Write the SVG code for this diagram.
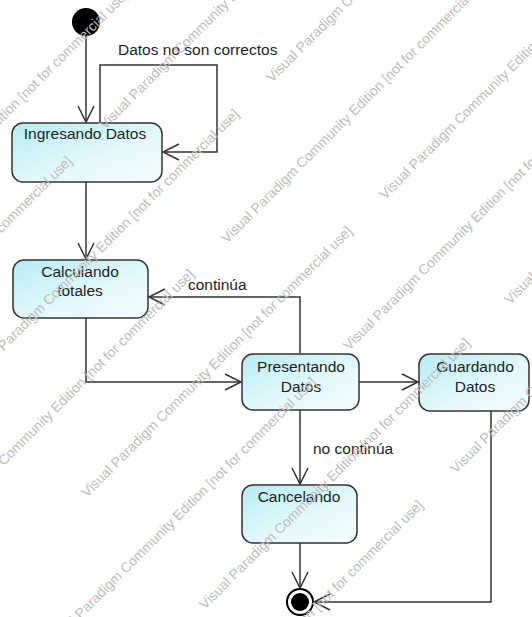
<svg xmlns="http://www.w3.org/2000/svg" width="532" height="617" viewBox="0 0 532 617">
<style>
.node rect{stroke:#333;stroke-width:1.5;fill:url(#g)}
.lbl{font-family:"Liberation Sans",Arial,sans-serif;font-size:15.5px;fill:#1e1e1e}
.nt{text-anchor:middle}
.edge{fill:none;stroke:#333;stroke-width:1.5;marker-end:url(#arr)}
.wm{font-family:"Liberation Sans",Arial,sans-serif;font-size:14px;fill:#bcbcbc}
</style>
<defs>
<linearGradient id="g" x1="0" y1="0" x2="1" y2="1">
<stop offset="0" stop-color="#b6ecf3"/>
<stop offset="0.6" stop-color="#e6f9fb"/>
<stop offset="1" stop-color="#f4fdfe"/>
</linearGradient>
<marker id="arr" markerUnits="userSpaceOnUse" markerWidth="20" markerHeight="20" viewBox="-18 -10 20 20" refX="0" refY="0" orient="auto">
<path d="M-16,-8 L0,0 L-16,8" fill="none" stroke="#333" stroke-width="1.5"/>
</marker>
</defs>
<rect width="532" height="617" fill="#fff"/>
<g id="connectors">
<path class="edge" d="M86,36 V122"/>
<path class="edge" d="M100,123 V65 H217 V152 H163"/>
<path class="edge" d="M86,182 V259"/>
<path class="edge" d="M86,318 V382 H241"/>
<path class="edge" d="M300,353 V297 H149"/>
<path class="edge" d="M359,382 H418"/>
<path class="edge" d="M300,410 V484"/>
<path class="edge" d="M300,543 V588"/>
<path class="edge" d="M491,411 V602 H314"/>
<text class="lbl" x="118" y="55">Datos no son correctos</text>
<text class="lbl" x="188" y="290">continúa</text>
<text class="lbl" x="313" y="454">no continúa</text>
</g>
<g id="initial"><circle cx="86" cy="22" r="14" fill="#000"/></g>
<g id="ingresando" class="node"><rect x="12" y="123" width="150" height="59" rx="11"/><text class="lbl nt" x="85" y="139">Ingresando Datos</text></g>
<g id="calculando" class="node"><rect x="13" y="260" width="135" height="58" rx="11"/><text class="lbl nt" x="80" y="277">Calculando</text><text class="lbl nt" x="80" y="296">totales</text></g>
<g id="presentando" class="node"><rect x="242" y="354" width="117" height="56" rx="11"/><text class="lbl nt" x="301" y="372">Presentando</text><text class="lbl nt" x="301" y="392">Datos</text></g>
<g id="guardando" class="node"><rect x="419" y="354" width="110" height="57" rx="11"/><text class="lbl nt" x="475" y="372">Guardando</text><text class="lbl nt" x="475" y="392">Datos</text></g>
<g id="cancelando" class="node"><rect x="242" y="485" width="115" height="58" rx="11"/><text class="lbl nt" x="299" y="502">Cancelando</text></g>
<g id="final"><circle cx="300" cy="602" r="13" fill="#fff" stroke="#000" stroke-width="2"/><circle cx="300" cy="602" r="9" fill="#000"/></g>
<g id="watermark" class="wm">
<text transform="translate(-137,262) rotate(-45)">Visual Paradigm Community Edition [not for commercial use]</text>
<text transform="translate(105,130) rotate(-45)">Visual Paradigm Community Edition [not for commercial use]</text>
<text transform="translate(-193,428) rotate(-45)">Visual Paradigm Community Edition [not for commercial use]</text>
<text transform="translate(-26,381) rotate(-45)">Visual Paradigm Community Edition [not for commercial use]</text>
<text transform="translate(272,83) rotate(-45)">Visual Paradigm Community Edition [not for commercial use]</text>
<text transform="translate(227,244) rotate(-45)">Visual Paradigm Community Edition [not for commercial use]</text>
<text transform="translate(-71,541) rotate(-45)">Visual Paradigm Community Edition [not for commercial use]</text>
<text transform="translate(385,200) rotate(-45)">Visual Paradigm Community Edition [not for commercial use]</text>
<text transform="translate(87,498) rotate(-45)">Visual Paradigm Community Edition [not for commercial use]</text>
<text transform="translate(349,351) rotate(-45)">Visual Paradigm Community Edition [not for commercial use]</text>
<text transform="translate(51,649) rotate(-45)">Visual Paradigm Community Edition [not for commercial use]</text>
<text transform="translate(510,305) rotate(-45)">Visual Paradigm Community Edition [not for commercial use]</text>
<text transform="translate(205,610) rotate(-45)">Visual Paradigm Community Edition [not for commercial use]</text>
<text transform="translate(456,474) rotate(-45)">Visual Paradigm Community Edition [not for commercial use]</text>
<text transform="translate(158,772) rotate(-45)">Visual Paradigm Community Edition [not for commercial use]</text>
</g>
</svg>
